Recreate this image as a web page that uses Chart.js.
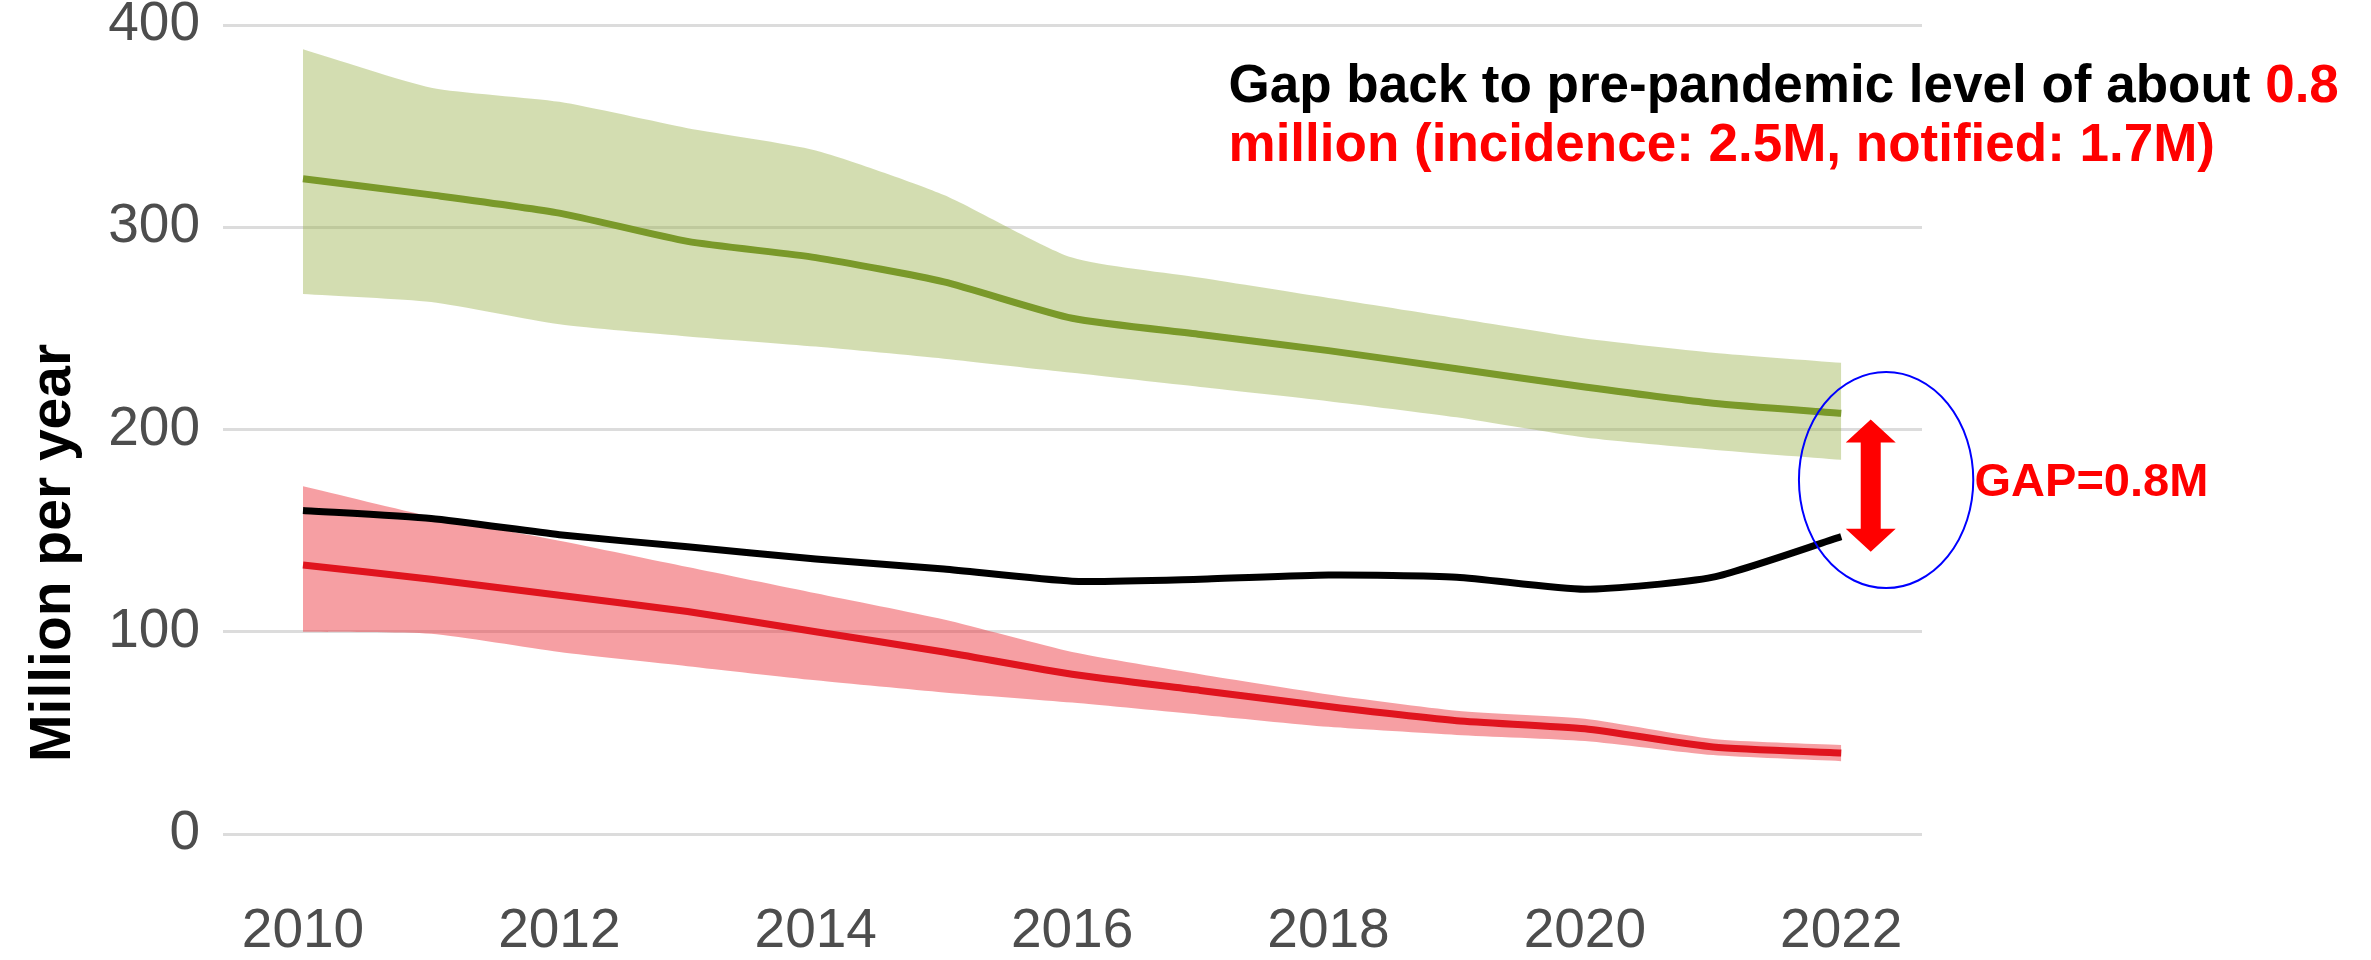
<!DOCTYPE html>
<html>
<head>
<meta charset="utf-8">
<script src="https://cdn.jsdelivr.net/npm/chart.js@4.4.1/dist/chart.umd.min.js"></script>
<style>
  html, body { margin: 0; padding: 0; background: #ffffff; }
</style>
</head>
<body>
<canvas id="myChart" width="2371" height="960"></canvas>
<script>
// Values (million per year)
const years = [2010, 2011, 2012, 2013, 2014, 2015, 2016, 2017, 2018, 2019, 2020, 2021, 2022];
const yearTicks = [2010, 2012, 2014, 2016, 2018, 2020, 2022];
const valueTicks = [0, 100, 200, 300, 400];

const incidence      = [324, 316, 307, 293, 285, 273, 255, 247, 239, 230, 221, 213, 208];
const incidenceHigh  = [388, 369, 362, 349, 338, 316, 285, 275, 265, 255, 245, 238, 233];
const incidenceLow   = [267, 263, 252, 246, 241, 235, 228, 221, 214, 206, 196, 190, 185];

const notified       = [160, 156, 148, 142, 136, 131, 125, 126, 128, 127, 121, 127, 147];

const redSeries      = [133, 126, 118, 110, 100, 90, 79, 71, 63, 56, 52, 43, 40];
const redHigh        = [172, 157, 145, 132, 119, 106, 90, 79, 69, 61, 57, 47, 44];
const redLow         = [100, 99, 90, 83, 76, 70, 65, 59, 53, 49, 46, 39, 36];

const noteLine1 = 'Gap back to pre-pandemic level of about ';
const noteLine1Red = '0.8';
const noteLine2 = 'million (incidence: 2.5M, notified: 1.7M)';
const gapLabel = 'GAP=0.8M';
const axisTitle = 'Million per year';

const FONT = "'Liberation Sans', Arial, Helvetica, sans-serif";

function pts(values) {
    return values.map((v, i) => ({ x: years[i], y: v }));
}

// Text, arrow and ellipse drawn on top of the chart (positions in data units)
const annotations = {
    id: 'annotations',
    afterDraw(chart) {
        const ctx = chart.ctx;
        const x = chart.scales.x;
        const y = chart.scales.y;
        ctx.save();

        // y axis title, rotated
        ctx.save();
        ctx.translate(70, y.getPixelForValue(139));
        ctx.rotate(-Math.PI / 2);
        ctx.font = 'bold 57px ' + FONT;
        ctx.fillStyle = '#000000';
        ctx.textAlign = 'center';
        ctx.textBaseline = 'alphabetic';
        ctx.fillText(axisTitle, 0, 0);
        ctx.restore();

        // note at the top right
        ctx.font = 'bold 53px ' + FONT;
        ctx.textAlign = 'left';
        ctx.textBaseline = 'alphabetic';
        const nx = x.getPixelForValue(2017.22);
        ctx.fillStyle = '#000000';
        ctx.fillText(noteLine1, nx, y.getPixelForValue(362));
        const w1 = ctx.measureText(noteLine1).width;
        ctx.fillStyle = '#ff0000';
        ctx.fillText(noteLine1Red, nx + w1, y.getPixelForValue(362));
        ctx.fillText(noteLine2, nx, y.getPixelForValue(333));

        // blue ellipse
        const cx = x.getPixelForValue(2022.35);
        const cy = y.getPixelForValue(175);
        const rx = x.getPixelForValue(2022.35 + 0.68) - cx;
        const ry = y.getPixelForValue(175 - 53.4) - cy;
        ctx.beginPath();
        ctx.ellipse(cx, cy, rx, ry, 0, 0, Math.PI * 2);
        ctx.strokeStyle = '#0000ff';
        ctx.lineWidth = 2;
        ctx.stroke();

        // red double arrow
        const ax = x.getPixelForValue(2022.23);
        const top = y.getPixelForValue(205);
        const bot = y.getPixelForValue(139.5);
        const head = 23, hw = 25, sw = 10;
        ctx.beginPath();
        ctx.moveTo(ax, top);
        ctx.lineTo(ax + hw, top + head);
        ctx.lineTo(ax + sw, top + head);
        ctx.lineTo(ax + sw, bot - head);
        ctx.lineTo(ax + hw, bot - head);
        ctx.lineTo(ax, bot);
        ctx.lineTo(ax - hw, bot - head);
        ctx.lineTo(ax - sw, bot - head);
        ctx.lineTo(ax - sw, top + head);
        ctx.lineTo(ax - hw, top + head);
        ctx.closePath();
        ctx.fillStyle = '#ff0000';
        ctx.fill();

        // GAP label
        ctx.font = 'bold 47px ' + FONT;
        ctx.fillStyle = '#ff0000';
        ctx.fillText(gapLabel, x.getPixelForValue(2023.04), y.getPixelForValue(167));

        ctx.restore();
    }
};

const ctx = document.getElementById('myChart').getContext('2d');
const myChart = new Chart(ctx, {
    type: 'line',
    data: {
        datasets: [
            {
                label: 'Incidence upper',
                data: pts(incidenceHigh),
                borderWidth: 0,
                pointRadius: 0,
                fill: '+1',
                backgroundColor: 'rgba(150, 175, 70, 0.42)',
                tension: 0.2,
                order: 5
            },
            {
                label: 'Incidence lower',
                data: pts(incidenceLow),
                borderWidth: 0,
                pointRadius: 0,
                fill: false,
                tension: 0.2,
                order: 5
            },
            {
                label: 'Red upper',
                data: pts(redHigh),
                borderWidth: 0,
                pointRadius: 0,
                fill: '+1',
                backgroundColor: 'rgba(235, 50, 60, 0.47)',
                tension: 0.2,
                order: 4
            },
            {
                label: 'Red lower',
                data: pts(redLow),
                borderWidth: 0,
                pointRadius: 0,
                fill: false,
                tension: 0.2,
                order: 4
            },
            {
                label: 'Incidence',
                data: pts(incidence),
                borderColor: '#7a992a',
                borderWidth: 7,
                pointRadius: 0,
                fill: false,
                tension: 0.2,
                order: 1
            },
            {
                label: 'Red',
                data: pts(redSeries),
                borderColor: '#e0141e',
                borderWidth: 7,
                pointRadius: 0,
                fill: false,
                tension: 0.2,
                order: 1
            },
            {
                label: 'Notified',
                data: pts(notified),
                borderColor: '#000000',
                borderWidth: 7,
                pointRadius: 0,
                fill: false,
                tension: 0.2,
                order: 0
            }
        ]
    },
    options: {
        responsive: false,
        animation: false,
        devicePixelRatio: 1,
        layout: {
            padding: { top: 25, right: 449, bottom: 0, left: 0 }
        },
        plugins: {
            legend: { display: false },
            tooltip: { enabled: false }
        },
        scales: {
            x: {
                type: 'linear',
                min: 2009.376,
                max: 2022.63,
                afterBuildTicks: (scale) => { scale.ticks = yearTicks.map(v => ({ value: v })); },
                afterFit: (scale) => { scale.height = 126; },
                grid: { display: false, drawTicks: false },
                border: { display: false },
                ticks: {
                    padding: 65,
                    color: '#4d4d4d',
                    font: { family: FONT, size: 55, lineHeight: 1.2 },
                    callback: (v) => String(v),
                    maxRotation: 0
                }
            },
            y: {
                min: 0,
                max: 400,
                afterBuildTicks: (scale) => { scale.ticks = valueTicks.map(v => ({ value: v })); },
                afterFit: (scale) => { scale.width = 223; },
                grid: { color: '#dcdcdc', lineWidth: 3, drawTicks: false },
                border: { display: false },
                ticks: {
                    padding: 23,
                    color: '#4d4d4d',
                    font: { family: FONT, size: 55, lineHeight: 0.05 },
                    callback: (v) => String(v)
                }
            }
        }
    },
    plugins: [annotations]
});
</script>
</body>
</html>
